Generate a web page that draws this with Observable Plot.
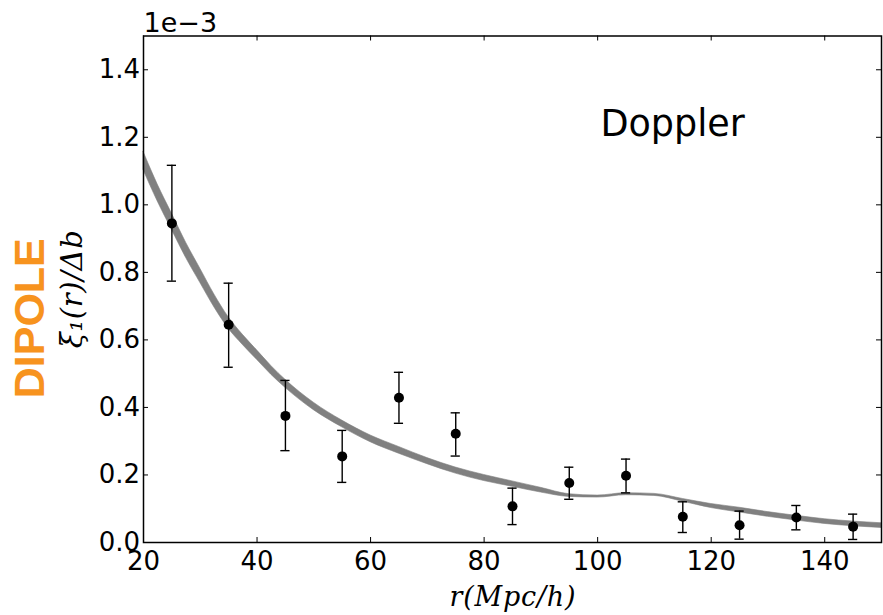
<!DOCTYPE html>
<html>
<head>
<meta charset="utf-8">
<script src="https://cdn.jsdelivr.net/npm/d3@7"></script>
<script src="https://cdn.jsdelivr.net/npm/@observablehq/plot@0.6"></script>
<style>
  html, body { margin: 0; padding: 0; background: #fff; }
  #chart { width: 883px; height: 615px; }
</style>
</head>
<body>
<div id="chart"></div>
<script>
// ---- Model band (units of 1e-3) ----
const bandR  = [20, 22.5, 25, 27.5, 30, 32.5, 35, 37.5, 40, 42.5, 45, 50, 55, 60, 65, 70, 75, 80, 85, 90, 95, 100, 105, 110, 115, 120, 125, 130, 135, 140, 145, 150];
const bandLo = [1.103, 1.010, 0.926, 0.843, 0.769, 0.696, 0.633, 0.585, 0.541, 0.497, 0.458, 0.392, 0.341, 0.297, 0.263, 0.232, 0.204, 0.182, 0.165, 0.148, 0.135, 0.133, 0.140, 0.138, 0.121, 0.102, 0.089, 0.076, 0.065, 0.055, 0.048, 0.043];
const bandHi = [1.157, 1.060, 0.974, 0.888, 0.811, 0.734, 0.667, 0.615, 0.569, 0.523, 0.482, 0.414, 0.361, 0.317, 0.283, 0.250, 0.222, 0.200, 0.181, 0.162, 0.143, 0.139, 0.146, 0.144, 0.129, 0.114, 0.103, 0.090, 0.079, 0.069, 0.062, 0.057];

// ---- Measurements (units of 1e-3) ----
const ptR   = [25, 35, 45, 55, 65, 75, 85, 95, 105, 115, 125, 135, 145];
const ptV   = [0.945, 0.645, 0.375, 0.255, 0.4285, 0.322, 0.107, 0.176, 0.1975, 0.076, 0.051, 0.074, 0.047];
const ptHi  = [1.117, 0.768, 0.480, 0.332, 0.504, 0.384, 0.161, 0.223, 0.247, 0.1205, 0.093, 0.1096, 0.084];
const ptLo  = [0.774, 0.519, 0.272, 0.178, 0.353, 0.256, 0.053, 0.128, 0.147, 0.0296, 0.0099, 0.0375, 0.009];

// ---- Ticks ----
const xTicks = [20, 40, 60, 80, 100, 120, 140];
const yTicks = [0.0, 0.2, 0.4, 0.6, 0.8, 1.0, 1.2, 1.4];

// ---- Texts ----
const annotation = [{text: "Doppler", r: 113.2, v: 1.238}];
const xLabel = "r(Mpc/h)";
const yLabel = "ξ₁(r)/Δb";
const sideLabel = "DIPOLE";
const offsetLabel = "1e\u22123";

const band = bandR.map((r, i) => ({r, lo: bandLo[i], hi: bandHi[i]}));
const pts = ptR.map((r, i) => ({r, v: ptV[i], lo: ptLo[i], hi: ptHi[i]}));

const W = 883, H = 615;
const mL = 143, mR = 2, mT = 35.5, mB = 73;
const innerW = W - mL - mR, innerH = H - mT - mB;
const tick = 5;

const chart = Plot.plot({
  width: W, height: H,
  marginLeft: mL, marginRight: mR, marginTop: mT, marginBottom: mB,
  style: {fontFamily: "'DejaVu Sans'", background: "#fff", color: "#000"},
  x: {domain: [20, 150]},
  y: {domain: [0, 1.5]},
  marks: [
    Plot.areaY(band, {x: "r", y1: "lo", y2: "hi", fill: "#808080", stroke: "#808080", strokeWidth: 0.6, curve: "monotone-x"}),
    Plot.ruleX(pts, {x: "r", y1: "lo", y2: "hi", stroke: "#000", strokeWidth: 1.4}),
    Plot.ruleY(pts, {y: "hi", x1: "r", x2: "r", insetLeft: -4.6, insetRight: -4.6, stroke: "#000", strokeWidth: 1.4}),
    Plot.ruleY(pts, {y: "lo", x1: "r", x2: "r", insetLeft: -4.6, insetRight: -4.6, stroke: "#000", strokeWidth: 1.4}),
    Plot.dot(pts, {x: "r", y: "v", r: 5, fill: "#000", stroke: "none"}),
    // inward ticks on four sides
    Plot.tickX(xTicks, {x: d => d, insetTop: innerH - tick, stroke: "#000", strokeWidth: 1}),
    Plot.tickX(xTicks, {x: d => d, insetBottom: innerH - tick, stroke: "#000", strokeWidth: 1}),
    Plot.tickY(yTicks, {y: d => d, insetRight: innerW - tick, stroke: "#000", strokeWidth: 1}),
    Plot.tickY(yTicks, {y: d => d, insetLeft: innerW - tick, stroke: "#000", strokeWidth: 1}),
    Plot.axisX(xTicks, {tickSize: 0, tickPadding: 9, fontSize: 26, label: null, tickFormat: d => String(d), fill: "#000"}),
    Plot.axisY(yTicks, {tickSize: 0, tickPadding: 3.5, fontSize: 26, label: null, tickFormat: d => d.toFixed(1), fill: "#000"}),
    Plot.frame({stroke: "#000", strokeWidth: 1.5}),
    Plot.text(annotation, {x: "r", y: "v", text: "text", fontSize: 36.5, fill: "#000", textAnchor: "middle", lineAnchor: "middle"}),
    Plot.text([offsetLabel], {frameAnchor: "top-left", text: d => d, textAnchor: "start", lineAnchor: "middle", dy: -12.4, fontSize: 27, fill: "#000"}),
    Plot.text([xLabel], {frameAnchor: "bottom", text: d => d, dy: 55, fontSize: 27, fontStyle: "italic", fontFamily: "'DejaVu Serif'", fill: "#000", textAnchor: "middle", lineAnchor: "middle", className: "xlab"}),
    Plot.text([yLabel], {frameAnchor: "left", text: d => d, dx: -71, rotate: -90, fontSize: 29, fontStyle: "italic", fontFamily: "'DejaVu Serif'", fill: "#000", textAnchor: "middle", lineAnchor: "middle", className: "ylab"}),
    Plot.text([sideLabel], {frameAnchor: "left", text: d => d, dx: -113, dy: 29, rotate: -90, fontSize: 43, fontWeight: "bold", fontFamily: "'Liberation Sans'", fill: "#f7931e", textAnchor: "middle", lineAnchor: "middle"})
  ]
});
document.getElementById("chart").appendChild(chart);
// stretch math labels to the reference's widths
d3.select(chart).selectAll(".ylab text").attr("textLength", 118).attr("lengthAdjust", "spacing");
d3.select(chart).selectAll(".xlab text").attr("textLength", 126).attr("lengthAdjust", "spacing");
</script>
</body>
</html>
